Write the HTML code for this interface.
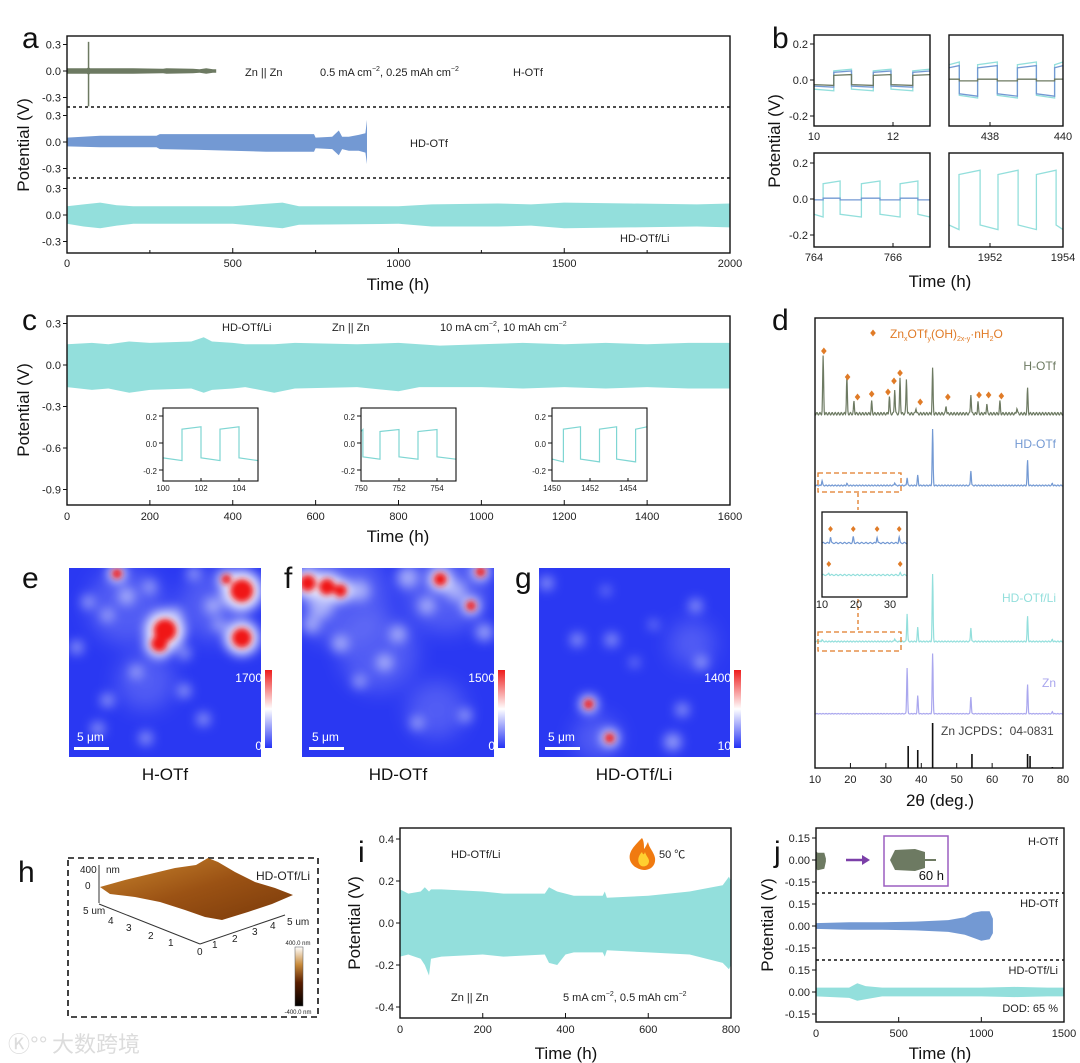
<!DOCTYPE html>
<html><head><meta charset="utf-8">
<style>
html,body{margin:0;padding:0;background:#fff;}
svg{display:block;font-family:"Liberation Sans","Noto Sans CJK SC",sans-serif;}
</style></head>
<body>
<svg id="fig" width="1080" height="1063" viewBox="0 0 1080 1063" xmlns="http://www.w3.org/2000/svg">
<defs>
<filter id="blur4" x="-50%" y="-50%" width="200%" height="200%"><feGaussianBlur stdDeviation="5.5"/></filter>
<filter id="blur8" x="-50%" y="-50%" width="200%" height="200%"><feGaussianBlur stdDeviation="10"/></filter>
<filter id="blur2" x="-50%" y="-50%" width="200%" height="200%"><feGaussianBlur stdDeviation="3"/></filter>
<linearGradient id="cbar" x1="0" y1="1" x2="0" y2="0"><stop offset="0" stop-color="#2432f5"/><stop offset="0.5" stop-color="#ffffff"/><stop offset="1" stop-color="#ee1c1c"/></linearGradient>
<linearGradient id="afmbar" x1="0" y1="1" x2="0" y2="0"><stop offset="0" stop-color="#000"/><stop offset="0.4" stop-color="#5a1e00"/><stop offset="0.7" stop-color="#c88a3a"/><stop offset="1" stop-color="#fff"/></linearGradient>
<linearGradient id="afmsurf" x1="0" y1="0" x2="1" y2="1"><stop offset="0" stop-color="#c9862e"/><stop offset="0.5" stop-color="#9b5214"/><stop offset="1" stop-color="#7a3a0a"/></linearGradient>
<clipPath id="clipE"><rect x="69" y="568" width="192" height="189"/></clipPath>
<clipPath id="clipF"><rect x="302" y="568" width="192" height="189"/></clipPath>
<clipPath id="clipG"><rect x="539" y="568" width="191" height="189"/></clipPath>
</defs>
</svg>
<script>
// ---------- DATA ----------
const aT_H=[0,60,64,66,70,150,200,290,300,380,400,420,440,450];
const aUp_H=[0.03,0.03,0.04,0.04,0.03,0.03,0.03,0.025,0.03,0.025,0.02,0.03,0.02,0.02];
const aLo_H=[-0.03,-0.03,-0.04,-0.04,-0.03,-0.03,-0.03,-0.025,-0.03,-0.025,-0.02,-0.03,-0.02,-0.02];
const aSpike_H=[65,-0.4,0.33];
const aT_D=[0,100,270,280,400,600,745,750,800,820,830,850,880,900,905];
const aUp_D=[0.05,0.07,0.07,0.09,0.09,0.09,0.09,0.05,0.06,0.13,0.06,0.06,0.08,0.1,0.25];
const aLo_D=[-0.05,-0.06,-0.06,-0.08,-0.09,-0.11,-0.11,-0.07,-0.08,-0.15,-0.08,-0.1,-0.1,-0.12,-0.25];
const aT_L=[0,50,100,150,200,300,500,650,700,1000,1100,1300,1400,1500,1700,1900,2000];
const aUp_L=[0.1,0.12,0.14,0.11,0.1,0.1,0.1,0.14,0.1,0.1,0.12,0.13,0.12,0.14,0.13,0.12,0.13];
const aLo_L=[-0.1,-0.13,-0.15,-0.12,-0.1,-0.1,-0.1,-0.15,-0.11,-0.1,-0.13,-0.13,-0.12,-0.15,-0.14,-0.13,-0.14];
const aXTicks=[0,500,1000,1500,2000];
const bTL_sw=[10.5,10.95,11.5,11.95,12.5];
const bTL_hi=[0.06,0.05,0.03];const bTL_lo=[-0.06,-0.04,-0.03];
const bTR_sw=[437.16,437.66,438.2,438.75,439.27,439.77];
const bTR_hi=[0.1,0.08,0.005];const bTR_lo=[-0.1,-0.09,-0.005];
const bBL_sw=[764.23,764.66,765.2,765.67,766.18,766.63];
const bBL_hi=[0.1,0.005];const bBL_lo=[-0.1,-0.005];
const bBR_sw=[1951.15,1951.73,1952.22,1952.77,1953.27,1953.81];
const bBR_hi=[0.16];const bBR_lo=[-0.17];
const cT=[0,60,100,150,200,300,330,350,400,430,500,550,700,800,850,900,1000,1100,1200,1300,1400,1500,1600];
const cUp=[0.15,0.16,0.15,0.17,0.16,0.17,0.2,0.17,0.16,0.15,0.15,0.16,0.15,0.16,0.15,0.14,0.15,0.16,0.15,0.16,0.15,0.16,0.16];
const cLo=[-0.16,-0.18,-0.17,-0.2,-0.18,-0.17,-0.2,-0.18,-0.17,-0.16,-0.2,-0.17,-0.16,-0.19,-0.16,-0.16,-0.16,-0.17,-0.16,-0.17,-0.16,-0.17,-0.17];
const cXTicks=[0,200,400,600,800,1000,1200,1400,1600];
const cYTicks=[0.3,0.0,-0.3,-0.6,-0.9];
const cIn1_sw=[101,102,103,104];const cIn2_sw=[750.1,751,752,753,754];const cIn3_sw=[1450.6,1451.5,1452.5,1453.4,1454.4];
const cIn_hi=[0.12,0.1,0.12];const cIn_lo=[-0.13,-0.12,-0.14];
const dPos_H=[12.3,19,21,26,31,32.5,34,35.8,38.5,43.2,47,54,56,58.5,62.2,67,70];
const dInt_H=[57,37,12,12,17,25,36,35,6,45,8,20,12,10,12,6,25];
const dPos_D=[12,19,32.5,36,39,43.2,54,70,77];
const dInt_D=[5,2,3,8,10,56,15,25,2];
const dPos_L=[12,32.5,36,39,43.2,54,70,77];
const dInt_L=[2,3,28,14,67,14,25,2];
const dPos_Z=[36,39,43.2,54,70,77];
const dInt_Z=[46,18,60,17,29,2];
const dPos_J=[36.3,39,43.2,54.3,70,70.7,77];
const dInt_J=[22,18,45,14,14,12,1];
const dDiaPos=[12.5,19.2,22,26,30.6,32.3,34,39.7,47.5,56.3,59,62.6];
const dDiaH=[64,38,18,21,23,34,42,13,18,20,20,19];
const dXTicks=[10,20,30,40,50,60,70,80];
const iT=[0,20,50,60,70,75,100,200,250,350,360,380,400,420,490,495,500,600,700,780,795,800];
const iUp=[0.16,0.14,0.15,0.17,0.15,0.16,0.16,0.15,0.14,0.14,0.17,0.15,0.14,0.13,0.13,0.15,0.12,0.13,0.15,0.18,0.22,0.2];
const iLo=[-0.16,-0.15,-0.17,-0.2,-0.25,-0.17,-0.16,-0.15,-0.16,-0.15,-0.19,-0.2,-0.15,-0.14,-0.14,-0.16,-0.13,-0.14,-0.15,-0.19,-0.22,-0.2];
const iXTicks=[0,200,400,600,800];
const iYTicks=[0.4,0.2,0.0,-0.2,-0.4];
const jT_H=[0,10,50,60];const jUp_H=[0.06,0.05,0.05,0.01];const jLo_H=[-0.06,-0.07,-0.06,-0.01];
const jT_D=[0,200,400,600,800,900,950,1000,1050,1070];
const jUp_D=[0.02,0.025,0.025,0.03,0.04,0.06,0.09,0.1,0.1,0.05];
const jLo_D=[-0.02,-0.025,-0.025,-0.03,-0.04,-0.06,-0.08,-0.1,-0.09,-0.05];
const jT_L=[0,200,250,300,400,600,800,1000,1200,1400,1500];
const jUp_L=[0.03,0.03,0.06,0.04,0.03,0.03,0.03,0.03,0.035,0.03,0.03];
const jLo_L=[-0.03,-0.04,-0.06,-0.05,-0.03,-0.03,-0.03,-0.03,-0.035,-0.03,-0.03];
const jXTicks=[0,500,1000,1500];
const eBlobs=[[0.5,0.33,0.07,1],[0.47,0.4,0.05,1],[0.9,0.12,0.07,1],[0.9,0.37,0.06,1],[0.82,0.06,0.03,1],[0.25,0.03,0.03,1],[0.42,0.1,0.03,0],[0.3,0.15,0.04,0],[0.1,0.18,0.03,0],[0.2,0.25,0.03,0],[0.55,0.25,0.04,0],[0.75,0.2,0.04,0],[0.78,0.3,0.03,0],[0.04,0.42,0.03,0],[0.6,0.45,0.03,0],[0.35,0.55,0.03,0],[0.2,0.7,0.03,0],[0.6,0.65,0.03,0],[0.4,0.9,0.03,0],[0.15,0.85,0.03,0],[0.7,0.8,0.03,0],[0.65,0.03,0.03,0]];
const fBlobs=[[0.03,0.08,0.05,1],[0.13,0.1,0.05,1],[0.2,0.12,0.04,1],[0.72,0.06,0.04,1],[0.88,0.2,0.03,1],[0.93,0.02,0.03,1],[0.1,0.2,0.06,0],[0.3,0.12,0.05,0],[0.55,0.05,0.05,0],[0.8,0.12,0.05,0],[0.65,0.2,0.04,0],[0.05,0.3,0.04,0],[0.43,0.5,0.04,0],[0.85,0.78,0.03,0],[0.6,0.82,0.03,0],[0.3,0.6,0.03,0],[0.95,0.34,0.04,0],[0.5,0.35,0.04,0],[0.2,0.4,0.04,0]];
const gBlobs=[[0.26,0.72,0.03,1],[0.37,0.9,0.03,1],[0.2,0.38,0.03,0],[0.38,0.38,0.03,0],[0.82,0.2,0.03,0],[0.85,0.5,0.03,0],[0.75,0.75,0.03,0],[0.7,0.92,0.04,0],[0.04,0.08,0.03,0],[0.5,0.5,0.02,0],[0.6,0.3,0.02,0],[0.35,0.12,0.02,0]];
// faint haze regions [fx,fy,radius(frac)]
const eHaze=[[0.3,0.2,0.2],[0.75,0.2,0.18],[0.4,0.6,0.15]];
const fHaze=[[0.2,0.15,0.25],[0.75,0.12,0.22],[0.4,0.45,0.2],[0.7,0.75,0.15]];
const gHaze=[[0.3,0.9,0.12],[0.8,0.4,0.12]];

// ---------- HELPERS ----------
const svg=document.getElementById('fig');
const NS='http://www.w3.org/2000/svg';
function mk(tag,attrs){const e=document.createElementNS(NS,tag);for(const k in attrs)e.setAttribute(k,attrs[k]);svg.appendChild(e);return e;}
function T(x,y,s,size,anchor,color,extra){const e=mk('text',Object.assign({x:x,y:y,'font-size':size||11,'text-anchor':anchor||'start',fill:color||'#222'},extra||{}));e.textContent=s;return e;}
function lin(d0,d1,r0,r1){return v=>r0+(v-d0)/(d1-d0)*(r1-r0);}
function box(x0,y0,x1,y1,w){return mk('rect',{x:x0,y:y0,width:x1-x0,height:y1-y0,fill:'none',stroke:'#111','stroke-width':w||1.4});}
function band(sx,sy,ts,up,lo,color){let p=[];ts.forEach((t,i)=>p.push(sx(t).toFixed(1)+','+sy(up[i]).toFixed(1)));for(let i=ts.length-1;i>=0;i--)p.push(sx(ts[i]).toFixed(1)+','+sy(lo[i]).toFixed(1));return mk('polygon',{points:p.join(' '),fill:color});}
function xticks(sx,vals,y,len,size,fmt,ly){vals.forEach(v=>{const t=mk('line',{x1:sx(v),x2:sx(v),y1:y,y2:y-len,stroke:'#111','stroke-width':1});const l=T(sx(v),ly,fmt?fmt(v):String(v),size,'middle');});}
function yticks(sy,vals,x,size,fmt){vals.forEach(v=>{const t=mk('line',{x1:x,x2:x-4,y1:sy(v),y2:sy(v),stroke:'#111','stroke-width':1});const l=T(x-6,sy(v)+4,fmt?fmt(v):v.toFixed(1),size,'end');});}
function square(sx,sy,x0,x1,sw,hi,lo,color,startHigh,w){let st=startHigh?1:0;let pts=[];let prev=x0;const lvl=s=>s?hi:lo;const all=sw.concat([x1]);all.forEach((s,i)=>{const v=lvl(st);pts.push([sx(prev),sy(v*0.85)]);pts.push([sx(s),sy(v)]);if(i<sw.length){st=1-st;pts.push([sx(s),sy(lvl(st)*0.85)]);}prev=s;});return mk('polyline',{points:pts.map(p=>p[0].toFixed(1)+','+p[1].toFixed(1)).join(' '),fill:'none',stroke:color,'stroke-width':w||1.3});}
function dashH(x0,x1,y){return mk('line',{x1:x0,x2:x1,y1:y,y2:y,stroke:'#111','stroke-width':1.5,'stroke-dasharray':'3,3'});}
function xrd(sx,pos,ints,base,color,noise){let p=[];for(let a=10;a<=80.001;a+=0.1){let v=0;pos.forEach((c,i)=>{v+=ints[i]*Math.exp(-Math.pow((a-c)/0.18,2));});p.push(sx(a).toFixed(1)+','+(base-v-noise*(Math.sin(a*7.3)*0.5+0.5)).toFixed(1));}return mk('polyline',{points:p.join(' '),fill:'none',stroke:color,'stroke-width':1.2});}
function diamond(x,y,s,c){return mk('polygon',{points:`${x},${y-s} ${x+s*0.8},${y} ${x},${y+s} ${x-s*0.8},${y}`,fill:c});}

const GR='#6d7a62',BL='#7399d3',CY='#93dfdc',LV='#aaa7ee',OR='#e07b27';

// ---------- PANEL A ----------
{const sx=lin(0,2000,67,730);const s1=lin(0,0.3,71,44.5),s2=lin(0,0.3,142,115.5),s3=lin(0,0.3,215,188.5);
let e;
e=band(sx,s1,aT_H,aUp_H,aLo_H,GR);
e=mk('line',{x1:sx(aSpike_H[0]),x2:sx(aSpike_H[0]),y1:s1(aSpike_H[1]),y2:s1(aSpike_H[2]),stroke:GR,'stroke-width':1.5});
e=band(sx,s2,aT_D,aUp_D,aLo_D,BL);
e=band(sx,s3,aT_L,aUp_L,aLo_L,CY);
e=dashH(67,730,107);
e=dashH(67,730,178);
e=box(67,36,730,253);
xticks(sx,aXTicks,253,5,11,null,267);
[250,750,1250,1750].forEach(v=>{const m=mk('line',{x1:sx(v),x2:sx(v),y1:253,y2:250,stroke:'#111'});});
yticks(s1,[0.3,0,-0.3],67,11);yticks(s2,[0.3,0,-0.3],67,11);yticks(s3,[0.3,0,-0.3],67,11);
}
// ---------- PANEL B ----------
{const yT=lin(0,0.2,80,44),yB=lin(0,0.2,199,163);
const tl=lin(10,12,814,893),tr=lin(438,440,990,1063),bl=lin(764,766,814,893),br=lin(1952,1954,990,1063);
let e;
[[tl,bTL_sw,bTL_hi,bTL_lo,[CY,BL,GR],yT,814,930,false,'b-top-left'],[tr,bTR_sw,bTR_hi,bTR_lo,[CY,BL,GR],yT,949,1063,true,'b-top-right'],[bl,bBL_sw,bBL_hi,bBL_lo,[CY,BL],yB,814,930,false,'b-bottom-left'],[br,bBR_sw,bBR_hi,bBR_lo,[CY],yB,949,1063,false,'b-bottom-right']].forEach(P=>{
 const sx=P[0];const dom0=(P[6]-sx(0))/(sx(1)-sx(0)),dom1=(P[7]-sx(0))/(sx(1)-sx(0));
 P[2].forEach((h,k)=>{e=square(sx,P[5],dom0,dom1,P[1],h,P[3][k],P[4][k],P[8]);});
});
e=box(814,35,930,126);
e=box(949,35,1063,126);
e=box(814,153,930,247);
e=box(949,153,1063,247);
yticks(yT,[0.2,0,-0.2],814,11);yticks(yB,[0.2,0,-0.2],814,11);
xticks(tl,[10,12],126,4,11,null,140);xticks(tr,[438,440],126,4,11,null,140);
xticks(bl,[764,766],247,4,11,null,261);xticks(br,[1952,1954],247,4,11,null,261);
}
// ---------- PANEL C ----------
{const sx=lin(0,1600,67,730),sy=lin(0,0.3,365,323.5);let e;
e=band(sx,sy,cT,cUp,cLo,CY);
e=box(67,316,730,505);
xticks(sx,cXTicks,505,5,11,null,520);yticks(sy,cYTicks,67,11);
const insets=[[163,258,100,105,cIn1_sw,[100,102,104],false],[361,456,750,755,cIn2_sw,[750,752,754],true],[552,647,1450,1455,cIn3_sw,[1450,1452,1454],false]];
const iy=lin(0,0.2,443,416);
insets.forEach((I,k)=>{const ix=lin(I[2],I[3],I[0],I[1]);
 e=square(ix,iy,I[2],I[3],I[4],cIn_hi[k],cIn_lo[k],'#7fd6d3',I[6],1.2);
 e=box(I[0],408,I[1],481,1.1);
 yticks(iy,[0.2,0,-0.2],I[0],8);xticks(ix,I[5],481,3,8,null,491);});
}
// ---------- PANEL D ----------
{const sx=lin(10,80,815,1063);let e;
e=xrd(sx,dPos_H,dInt_H,415,GR,2.5);
e=xrd(sx,dPos_D,dInt_D,486,BL,1);
e=xrd(sx,dPos_L,dInt_L,642,CY,1);
e=xrd(sx,dPos_Z,dInt_Z,714,LV,0.5);
dPos_J.forEach((p,i)=>{const l=mk('line',{x1:sx(p),x2:sx(p),y1:768,y2:768-dInt_J[i]*1.0,stroke:'#111','stroke-width':1.6});});
dDiaPos.forEach((p,i)=>{const d=diamond(sx(p),415-dDiaH[i],3.5,OR);});
e=diamond(873,333,3.5,OR);
e=mk('rect',{x:818,y:473,width:83,height:19,fill:'none',stroke:OR,'stroke-width':1.3,'stroke-dasharray':'5,3'});
e=mk('rect',{x:818,y:632,width:83,height:19,fill:'none',stroke:OR,'stroke-width':1.3,'stroke-dasharray':'5,3'});
e=mk('line',{x1:858,x2:858,y1:493,y2:510,stroke:OR,'stroke-width':1.3,'stroke-dasharray':'4,3'});
e=mk('line',{x1:858,x2:858,y1:599,y2:630,stroke:OR,'stroke-width':1.3,'stroke-dasharray':'4,3'});
const ix=lin(10,35,822,907);
[[12.5,19.2,26.2,32.7],[12,33]].forEach((pk,k)=>{const base=k?575:543;let p=[];for(let a=10;a<=35;a+=0.1){let v=0;pk.forEach(c=>v+=(k?2:6)*Math.exp(-Math.pow((a-c)/0.2,2)));p.push(ix(a).toFixed(1)+','+(base-v-Math.sin(a*5)*0.6).toFixed(1));}
 e=mk('polyline',{points:p.join(' '),fill:'none',stroke:k?CY:BL,'stroke-width':1.2});
 pk.forEach(c=>{const d=diamond(ix(c),base-(k?11:14),3,OR);});});
e=box(822,512,907,597,1.3);
[10,20,30].forEach(v=>{const l=T(ix(v),608,String(v),11,'middle');});
e=box(815,318,1063,768);
xticks(sx,dXTicks,768,5,11,null,783);
}
// ---------- HEATMAPS ----------
function heat(x0,y0,w,h,blobs,haze,clip,nm){const g=mk('g',{'clip-path':'url(#'+clip+')'});
 const bg=document.createElementNS(NS,'rect');bg.setAttribute('x',x0);bg.setAttribute('y',y0);bg.setAttribute('width',w);bg.setAttribute('height',h);bg.setAttribute('fill','#2a38f2');g.appendChild(bg);
 const gh=document.createElementNS(NS,'g');gh.setAttribute('filter','url(#blur8)');g.appendChild(gh);
 haze.forEach(b=>{const c=document.createElementNS(NS,'circle');c.setAttribute('cx',x0+b[0]*w);c.setAttribute('cy',y0+b[1]*h);c.setAttribute('r',b[2]*w);c.setAttribute('fill','#8088f6');c.setAttribute('opacity','0.45');gh.appendChild(c);});
 const gw=document.createElementNS(NS,'g');gw.setAttribute('filter','url(#blur4)');g.appendChild(gw);
 blobs.forEach(b=>{const c=document.createElementNS(NS,'circle');c.setAttribute('cx',x0+b[0]*w);c.setAttribute('cy',y0+b[1]*h);c.setAttribute('r',b[2]*w*(b[3]?1.5:1.1));c.setAttribute('fill',b[3]?'#f4f4ff':'#d0d4fc');c.setAttribute('opacity',b[3]?'1':'0.7');gw.appendChild(c);});
 const gr=document.createElementNS(NS,'g');gr.setAttribute('filter','url(#blur2)');g.appendChild(gr);
 blobs.filter(b=>b[3]).forEach(b=>{const c=document.createElementNS(NS,'circle');c.setAttribute('cx',x0+b[0]*w);c.setAttribute('cy',y0+b[1]*h);c.setAttribute('r',b[2]*w*0.85);c.setAttribute('fill','#f01414');gr.appendChild(c);});
}
heat(69,568,192,189,eBlobs,eHaze,'clipE','e-heatmap');heat(302,568,192,189,fBlobs,fHaze,'clipF','f-heatmap');heat(539,568,191,189,gBlobs,gHaze,'clipG','g-heatmap');
[[265,'1700','0','e'],[498,'1500','0','f'],[734,'1400','10','g']].forEach(c=>{const r=mk('rect',{x:c[0],y:670,width:7,height:78,fill:'url(#cbar)'});
 const a=T(c[0]-3,682,c[1],12,'end','#fff');
 const b=T(c[0]-3,750,c[2],12,'end','#fff');});
[[74,'e'],[309,'f'],[545,'g']].forEach(s=>{const r=mk('rect',{x:s[0],y:747,width:35,height:3,fill:'#fff'});
 const t=T(s[0]+3,741,'5 μm',12,'start','#fff');});

// ---------- PANEL I ----------
{const sx=lin(0,800,400,731),sy=lin(0,0.4,923,839);let e;
e=band(sx,sy,iT,iUp,iLo,CY);
e=box(400,828,731,1018);
xticks(sx,iXTicks,1018,5,11,null,1033);yticks(sy,iYTicks,400,11);
}
// ---------- PANEL J ----------
{const sx=lin(0,1500,816,1064);const s1=lin(0,0.15,860,838),s2=lin(0,0.15,926,904),s3=lin(0,0.15,992,970);let e;
e=band(sx,s1,jT_H,jUp_H,jLo_H,GR);
e=band(sx,s2,jT_D,jUp_D,jLo_D,BL);
e=band(sx,s3,jT_L,jUp_L,jLo_L,CY);
e=dashH(816,1064,893);
e=dashH(816,1064,960);
e=box(816,828,1064,1022);
xticks(sx,jXTicks,1022,5,11,null,1037);
const f2=v=>v.toFixed(2);yticks(s1,[0.15,0,-0.15],816,11,f2);yticks(s2,[0.15,0,-0.15],816,11,f2);yticks(s3,[0.15,0,-0.15],816,11,f2);
e=mk('rect',{x:884,y:836,width:64,height:50,fill:'#fff',stroke:'#9b5fc0','stroke-width':1.5});
e=mk('polygon',{points:'890,860 895,850 915,849 925,852 925,868 915,871 895,870',fill:'#6d7a62'});
e=mk('line',{x1:925,x2:936,y1:860,y2:860,stroke:'#6d7a62','stroke-width':2});
e=mk('line',{x1:846,x2:862,y1:860,y2:860,stroke:'#7b3fa8','stroke-width':2.5});
e=mk('polygon',{points:'862,855 870,860 862,865',fill:'#7b3fa8'});
}
</script>
<svg width="1080" height="1063" style="position:absolute;left:0;top:0" font-family="Liberation Sans, Noto Sans CJK SC, sans-serif">
<g fill="#111">
<text x="22" y="48" font-size="30">a</text>
<text x="772" y="48" font-size="30">b</text>
<text x="22" y="330" font-size="30">c</text>
<text x="772" y="330" font-size="30">d</text>
<text x="22" y="588" font-size="30">e</text>
<text x="284" y="588" font-size="30">f</text>
<text x="515" y="588" font-size="30">g</text>
<text x="18" y="882" font-size="30">h</text>
<text x="358" y="862" font-size="30">i</text>
<text x="774" y="862" font-size="30">j</text>
</g>
<g font-size="17" fill="#111">
<text transform="translate(29,145) rotate(-90)" text-anchor="middle">Potential (V)</text>
<text x="398" y="290" text-anchor="middle">Time (h)</text>
<text transform="translate(780,141) rotate(-90)" text-anchor="middle">Potential (V)</text>
<text x="940" y="287" text-anchor="middle">Time (h)</text>
<text transform="translate(29,410) rotate(-90)" text-anchor="middle">Potential (V)</text>
<text x="398" y="542" text-anchor="middle">Time (h)</text>
<text x="940" y="806" text-anchor="middle">2θ (deg.)</text>
<text transform="translate(360,923) rotate(-90)" text-anchor="middle">Potential (V)</text>
<text x="566" y="1059" text-anchor="middle">Time (h)</text>
<text transform="translate(773,925) rotate(-90)" text-anchor="middle">Potential (V)</text>
<text x="940" y="1059" text-anchor="middle">Time (h)</text>
<text x="165" y="780" text-anchor="middle">H-OTf</text>
<text x="398" y="780" text-anchor="middle">HD-OTf</text>
<text x="634" y="780" text-anchor="middle">HD-OTf/Li</text>
</g>
<g font-size="11" fill="#222">
<text x="245" y="76">Zn || Zn</text>
<text x="320" y="76">0.5 mA cm<tspan font-size="7" dy="-5">−2</tspan><tspan dy="5">, 0.25 mAh cm</tspan><tspan font-size="7" dy="-5">−2</tspan></text>
<text x="513" y="76">H-OTf</text>
<text x="410" y="147">HD-OTf</text>
<text x="620" y="242">HD-OTf/Li</text>
<text x="222" y="331">HD-OTf/Li</text>
<text x="332" y="331">Zn || Zn</text>
<text x="440" y="331">10 mA cm<tspan font-size="7" dy="-5">−2</tspan><tspan dy="5">, 10 mAh cm</tspan><tspan font-size="7" dy="-5">−2</tspan></text>
<text x="890" y="338" fill="#e07b27" font-size="12">Zn<tspan font-size="7" dy="3">x</tspan><tspan dy="-3">OTf</tspan><tspan font-size="7" dy="3">y</tspan><tspan dy="-3">(OH)</tspan><tspan font-size="7" dy="3">2x-y</tspan><tspan dy="-3">·nH</tspan><tspan font-size="7" dy="3">2</tspan><tspan dy="-3">O</tspan></text>
<text x="1056" y="370" text-anchor="end" font-size="12" fill="#6d7a62">H-OTf</text>
<text x="1056" y="448" text-anchor="end" font-size="12" fill="#7399d3">HD-OTf</text>
<text x="1056" y="602" text-anchor="end" font-size="12" fill="#93dfdc">HD-OTf/Li</text>
<text x="1056" y="687" text-anchor="end" font-size="12" fill="#a9a6ee">Zn</text>
<text x="941" y="735" font-size="12" fill="#444">Zn JCPDS：04-0831</text>
<text x="451" y="858">HD-OTf/Li</text>
<text x="659" y="858">50 ℃</text>
<text x="451" y="1001">Zn || Zn</text>
<text x="563" y="1001">5 mA cm<tspan font-size="7" dy="-5">−2</tspan><tspan dy="5">, 0.5 mAh cm</tspan><tspan font-size="7" dy="-5">−2</tspan></text>
<text x="1058" y="845" text-anchor="end">H-OTf</text>
<text x="1058" y="907" text-anchor="end">HD-OTf</text>
<text x="1058" y="974" text-anchor="end">HD-OTf/Li</text>
<text x="1058" y="1012" text-anchor="end">DOD: 65 %</text>
<text x="944" y="880" text-anchor="end" font-size="13" fill="#111">60 h</text>
</g>
<g>
<path d="M642,838 C634,846 628,852 630,860 C632,867 640,870 644,870 C650,870 656,866 655,858 C654,852 649,848 648,842 C646,846 645,848 644,849 C644,845 644,841 642,838 Z" fill="#f07a10"/>
<path d="M642,852 C638,856 637,861 640,865 C643,868 649,866 649,861 C649,858 646,856 645,852 C644,855 643,855 642,852 Z" fill="#ffd030"/>
</g>
<rect x="68" y="858" width="250" height="159" fill="none" stroke="#111" stroke-width="1.6" stroke-dasharray="6,4"/>
<text x="310" y="880" text-anchor="end" font-size="12" fill="#222">HD-OTf/Li</text>
<polygon points="100,887 125,880 150,874 175,868 196,865 208,858 218,862 235,872 255,882 275,888 293,895 272,904 248,912 222,920 205,917 185,910 160,902 135,897 110,894" fill="url(#afmsurf)"/>
<g stroke="#333" stroke-width="1" fill="none">
<line x1="99" y1="865" x2="99" y2="903"/><line x1="99" y1="904" x2="200" y2="944"/><line x1="200" y1="944" x2="285" y2="915"/>
</g>
<g font-size="10" fill="#222">
<text x="80" y="873">400</text>
<text x="106" y="873">nm</text>
<text x="85" y="889">0</text>
<text x="83" y="914">5 um</text>
<text x="108" y="924">4</text>
<text x="126" y="931">3</text>
<text x="148" y="939">2</text>
<text x="168" y="946">1</text>
<text x="197" y="955">0</text>
<text x="212" y="948">1</text>
<text x="232" y="942">2</text>
<text x="252" y="935">3</text>
<text x="270" y="929">4</text>
<text x="287" y="925">5 um</text>
</g>
<rect x="295" y="947" width="8" height="59" fill="url(#afmbar)" stroke="#555" stroke-width="0.5"/>
<text x="298" y="945" font-size="6" text-anchor="middle" fill="#222">400.0 nm</text>
<text x="298" y="1014" font-size="6" text-anchor="middle" fill="#222">-400.0 nm</text>
<text x="8" y="1052" font-size="22" fill="#dcdcdc">Ⓚ°°</text>
<text x="52" y="1052" font-size="22" fill="#dcdcdc">大数跨境</text>
</svg>
</body></html>
